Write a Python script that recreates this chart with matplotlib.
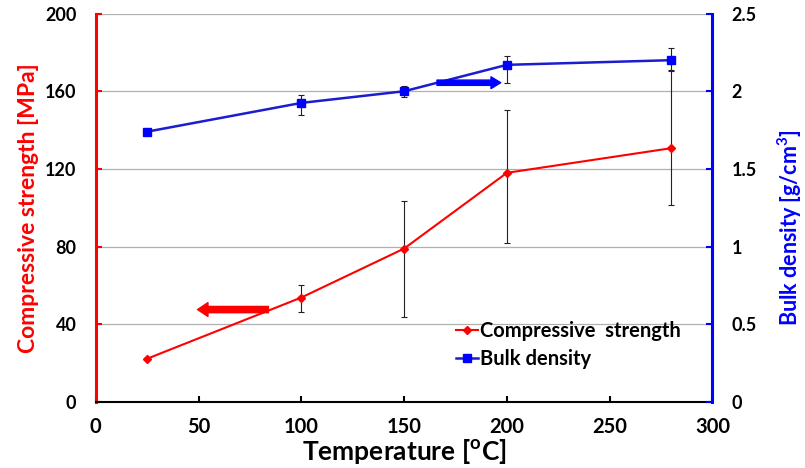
import numpy as np
import matplotlib
matplotlib.use("Agg")
import matplotlib.pyplot as plt

# data
temps = [25, 100, 150, 200, 280]
strength = [22.3, 53.8, 79.0, 118.0, 130.7]
strength_err_lo = [0, 7.4, 35.2, 36.1, 29.3]
strength_err_hi = [0, 6.3, 24.3, 32.4, 40.0]
density = [1.74, 1.925, 2.0, 2.17, 2.2]
density_err_lo = [0, 0.075, 0.037, 0.114, 0.07]
density_err_hi = [0, 0.05, 0.037, 0.06, 0.08]

left_ticks = [0, 40, 80, 120, 160, 200]
right_ticks = [0, 0.5, 1, 1.5, 2, 2.5]
right_labels = ["0", "0.5", "1", "1.5", "2", "2.5"]
x_ticks = [0, 50, 100, 150, 200, 250, 300]

plt.rcParams['font.family'] = ['Lato', 'DejaVu Sans']

fig = plt.figure(figsize=(8.05, 4.68), dpi=100)
ax = fig.add_axes([0.119, 0.141, 0.766, 0.830])
ax2 = ax.twinx()

red = '#ff0000'
blue = '#0000ff'

# error bars
ax.errorbar(temps, strength, yerr=[strength_err_lo, strength_err_hi], fmt='none',
            ecolor='#222222', elinewidth=0.8, capsize=2, capthick=0.8, zorder=2)
ax2.errorbar(temps, density, yerr=[density_err_lo, density_err_hi], fmt='none',
             ecolor='#222222', elinewidth=0.8, capsize=2, capthick=0.8, zorder=2)

l1, = ax.plot(temps, strength, color=red, lw=1.5, marker='D', ms=4.5,
              mfc=red, mec=red, zorder=3)
l2, = ax2.plot(temps, density, color='#1c1cd0', lw=1.8, marker='s', ms=6,
               mfc=blue, mec=blue, zorder=3)

# direction arrows
ax.annotate('', xy=(49.5, 47.6), xytext=(84, 47.6),
            arrowprops=dict(arrowstyle='simple,head_width=1.0,head_length=0.75,tail_width=0.45',
                            color=red, shrinkA=0, shrinkB=0, mutation_scale=10))
ax2.annotate('', xy=(197, 2.055), xytext=(166, 2.055),
             arrowprops=dict(arrowstyle='simple,head_width=0.85,head_length=0.7,tail_width=0.38',
                             color=blue, shrinkA=0, shrinkB=0, mutation_scale=10))

ax.set_xlim(0, 300)
ax.set_ylim(0, 200)
ax2.set_ylim(0, 2.5)
ax.set_xticks(x_ticks)
ax.set_yticks(left_ticks)
ax2.set_yticks(right_ticks)
ax2.set_yticklabels(right_labels)

ax.grid(axis='y', color='#b0b0b0', lw=0.9)
ax.set_axisbelow(True)

ax.spines['top'].set_visible(False)
ax2.spines['top'].set_visible(False)
ax.spines['left'].set_color(red)
ax.spines['left'].set_linewidth(2.2)
ax2.spines['right'].set_color(blue)
ax2.spines['right'].set_linewidth(2.2)
ax2.spines['left'].set_visible(False)
ax.spines['right'].set_visible(False)
ax.spines['bottom'].set_linewidth(1.5)
ax2.spines['bottom'].set_visible(False)

ax.tick_params(axis='y', direction='in', colors=red, length=4, width=1.5, pad=14,
               labelcolor='black', labelsize=13)
ax2.tick_params(axis='y', direction='in', colors=blue, length=4, width=1.5, pad=14,
                labelcolor='black', labelsize=13)
ax.tick_params(axis='x', direction='in', length=4, width=1.5, pad=11, labelsize=14.5)
for lab in ax.get_xticklabels() + ax.get_yticklabels() + ax2.get_yticklabels():
    lab.set_fontweight('bold')

ax.set_xlabel(r'Temperature [$^\mathregular{o}$C]', fontsize=19, fontweight='bold', labelpad=0)
ax.set_ylabel('Compressive strength [MPa]', fontsize=16.5, color=red, fontweight='bold',
              labelpad=4)
ax2.set_ylabel(r'Bulk density [g/cm$^\mathregular{3}$]', fontsize=15.5, color=blue,
               fontweight='bold')
ax2.yaxis.set_label_coords(1.102, 0.45)

leg = ax2.legend([l1, l2], ['Compressive  strength', 'Bulk density'], loc='upper left',
                 bbox_to_anchor=(0.555, 0.255), frameon=False, handlelength=1.1,
                 handletextpad=0.1, labelspacing=0.4, prop={'size': 14.5, 'weight': 'bold'})

fig.savefig('out.png', dpi=100)
